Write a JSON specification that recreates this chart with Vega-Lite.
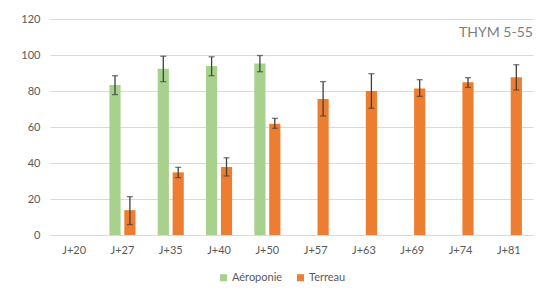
{
  "$schema": "https://vega.github.io/schema/vega-lite/v6.json",
  "autosize": {"type": "none"},
  "width": 483,
  "height": 216,
  "padding": {"left": 50, "top": 19, "right": 7, "bottom": 61},
  "background": "white",
  "datasets": {
    "bars": [
      {"day": "J+27", "series": "Aéroponie", "value": 83.3, "lo": 78, "hi": 88.5},
      {"day": "J+35", "series": "Aéroponie", "value": 92.3, "lo": 85.2, "hi": 99.3},
      {"day": "J+40", "series": "Aéroponie", "value": 93.9, "lo": 88.5, "hi": 99},
      {"day": "J+50", "series": "Aéroponie", "value": 95.3, "lo": 90.7, "hi": 99.7},
      {"day": "J+27", "series": "Terreau", "value": 13.8, "lo": 5.8, "hi": 21.3},
      {"day": "J+35", "series": "Terreau", "value": 34.8, "lo": 31.9, "hi": 37.6},
      {"day": "J+40", "series": "Terreau", "value": 37.8, "lo": 32.8, "hi": 42.9},
      {"day": "J+50", "series": "Terreau", "value": 61.8, "lo": 59.3, "hi": 64.8},
      {"day": "J+57", "series": "Terreau", "value": 75.6, "lo": 66.1, "hi": 85.2},
      {"day": "J+63", "series": "Terreau", "value": 80, "lo": 70.4, "hi": 89.6},
      {"day": "J+69", "series": "Terreau", "value": 81.4, "lo": 77, "hi": 86.3},
      {"day": "J+74", "series": "Terreau", "value": 84.8, "lo": 82, "hi": 87.4},
      {"day": "J+81", "series": "Terreau", "value": 87.6, "lo": 80.6, "hi": 94.6}
    ],
    "label": [{"text": "THYM 5-55", "day": "J+81", "y": 112}]
  },
  "layer": [
    {
      "data": {"name": "bars"},
      "encoding": {
        "x": {"field": "day", "type": "nominal", "sort": null,
          "scale": {"domain": ["J+20","J+27","J+35","J+40","J+50","J+57","J+63","J+69","J+74","J+81"], "paddingInner": 0.46, "paddingOuter": 0.23},
          "axis": {"title": null, "labelAngle": 0, "ticks": false, "domainColor": "#d9d9d9", "domainWidth": 1, "labelFont": "Lato", "labelFontSize": 11, "labelColor": "#595959", "labelPadding": 9}},
        "xOffset": {"field": "series", "type": "nominal", "scale": {"domain": ["Aéroponie", "Terreau"], "paddingInner": 0.25, "paddingOuter": 0}}
      },
      "layer": [
        {
          "mark": {"type": "bar"},
          "encoding": {
            "y": {"field": "value", "type": "quantitative", "scale": {"domain": [0, 120], "nice": false},
              "axis": {"title": null, "values": [0,20,40,60,80,100,120], "labelOverlap": false, "ticks": false, "domain": false, "gridColor": "#d9d9d9", "gridWidth": 1, "labelFont": "Lato", "labelFontSize": 11, "labelColor": "#595959", "labelPadding": 10}},
            "color": {"field": "series", "type": "nominal",
              "scale": {"domain": ["Aéroponie", "Terreau"], "range": ["#a9d18e", "#ed7d31"]},
              "legend": {"title": null, "orient": "none", "legendX": 168, "legendY": 253, "direction": "horizontal", "symbolType": "square", "symbolSize": 50, "symbolStrokeWidth": 0, "labelFont": "Lato", "labelFontSize": 11, "labelColor": "#595959", "columnPadding": 12, "labelOffset": 3}}
          }
        },
        {
          "mark": {"type": "rule", "color": "#404040", "strokeWidth": 1.3},
          "encoding": {
            "y": {"field": "lo", "type": "quantitative", "scale": {"domain": [0, 120], "nice": false},
              "axis": {"title": null, "values": [0,20,40,60,80,100,120], "labelOverlap": false, "ticks": false, "domain": false, "gridColor": "#d9d9d9", "gridWidth": 1, "labelFont": "Lato", "labelFontSize": 11, "labelColor": "#595959", "labelPadding": 10}},
            "y2": {"field": "hi"}
          }
        },
        {
          "mark": {"type": "tick", "color": "#404040", "thickness": 1.3, "size": 6, "orient": "horizontal"},
          "encoding": {"y": {"field": "lo", "type": "quantitative", "scale": {"domain": [0, 120], "nice": false},
              "axis": {"title": null, "values": [0,20,40,60,80,100,120], "labelOverlap": false, "ticks": false, "domain": false, "gridColor": "#d9d9d9", "gridWidth": 1, "labelFont": "Lato", "labelFontSize": 11, "labelColor": "#595959", "labelPadding": 10}}}
        },
        {
          "mark": {"type": "tick", "color": "#404040", "thickness": 1.3, "size": 6, "orient": "horizontal"},
          "encoding": {"y": {"field": "hi", "type": "quantitative", "scale": {"domain": [0, 120], "nice": false},
              "axis": {"title": null, "values": [0,20,40,60,80,100,120], "labelOverlap": false, "ticks": false, "domain": false, "gridColor": "#d9d9d9", "gridWidth": 1, "labelFont": "Lato", "labelFontSize": 11, "labelColor": "#595959", "labelPadding": 10}}}
        }
      ]
    },
    {
      "data": {"name": "label"},
      "mark": {"type": "text", "align": "right", "baseline": "middle", "dx": 11, "font": "Lato", "fontSize": 14, "color": "#7f7f7f"},
      "encoding": {
        "x": {"field": "day", "type": "nominal", "bandPosition": 1},
        "y": {"field": "y", "type": "quantitative", "scale": {"domain": [0, 120], "nice": false},
          "axis": {"title": null, "values": [0,20,40,60,80,100,120], "labelOverlap": false, "ticks": false, "domain": false, "gridColor": "#d9d9d9", "gridWidth": 1, "labelFont": "Lato", "labelFontSize": 11, "labelColor": "#595959", "labelPadding": 10}},
        "text": {"field": "text"}
      }
    }
  ],
  "config": {"view": {"stroke": null}}
}
